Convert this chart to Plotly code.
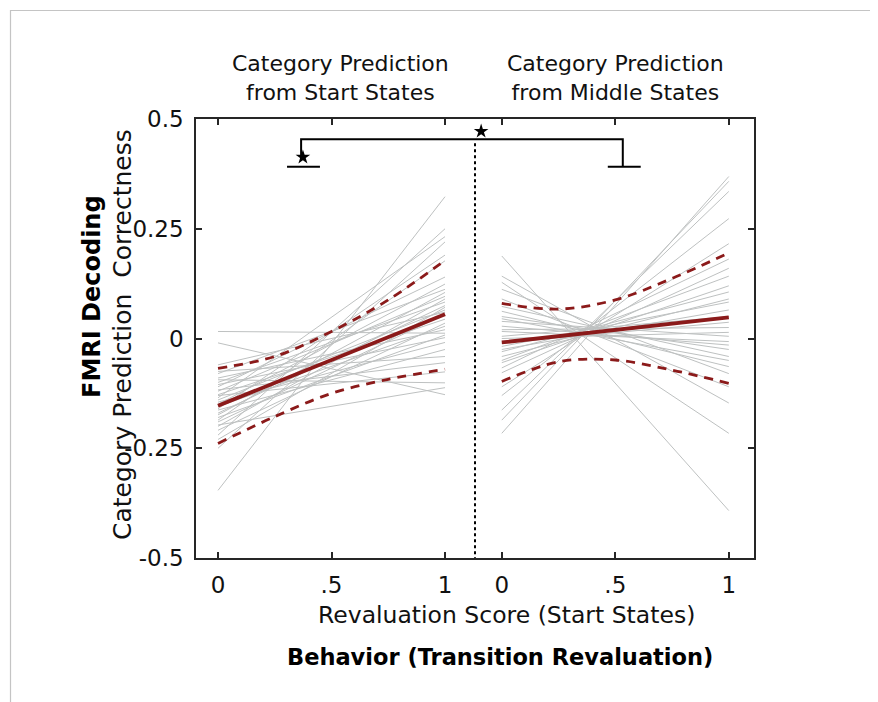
import plotly.graph_objects as go

# ---------------- data ----------------
PANEL_X = [0, 1]
CI_X = [0, 0.25, 0.5, 0.75, 1]
RIGHT_OFFSET = 1.25          # horizontal shift of the right panel on the shared axis
DIVIDER_X = 1.132

left_start = [0.016, -0.010, -0.346, -0.060, -0.075, -0.080, -0.090, -0.094, -0.100, -0.105,
              -0.110, -0.117, -0.120, -0.128, -0.130, -0.135, -0.140, -0.145, -0.150, -0.155,
              -0.160, -0.163, -0.170, -0.174, -0.180, -0.186, -0.190, -0.197, -0.200, -0.209,
              -0.220, -0.230, -0.250]
left_end = [0.012, -0.128, 0.323, 0.060, -0.041, 0.112, 0.020, -0.101, 0.083, 0.002,
            0.140, -0.055, 0.096, 0.044, -0.076, 0.232, 0.065, -0.009, 0.124, 0.028,
            0.190, -0.025, 0.075, 0.105, 0.008, 0.177, 0.055, -0.112, 0.090, 0.035,
            0.250, 0.071, 0.220]

right_start = [0.188, 0.142, 0.128, 0.112, 0.090, 0.073, 0.062, 0.050, 0.045, 0.039,
               0.028, 0.020, 0.016, 0.005, 0.000, -0.010, -0.018, -0.025, -0.030, -0.041,
               -0.050, -0.055, -0.067, -0.078, -0.110, -0.130, -0.163, -0.186, -0.216]
right_end = [-0.392, -0.147, -0.216, -0.080, -0.110, -0.041, -0.064, -0.025, -0.050, 0.005,
             -0.015, 0.025, -0.007, 0.050, 0.014, 0.037, 0.083, 0.065, 0.106, 0.090,
             0.142, 0.120, 0.181, 0.160, 0.216, 0.273, 0.335, 0.358, 0.369]

left_mean = [-0.153, 0.055]
left_ci_upper = [-0.068, -0.041, 0.016, 0.088, 0.178]
left_ci_lower = [-0.239, -0.178, -0.125, -0.093, -0.070]

right_mean = [-0.009, 0.048]
right_ci_upper = [0.080, 0.067, 0.088, 0.137, 0.195]
right_ci_lower = [-0.098, -0.053, -0.049, -0.072, -0.102]

x_tick_vals = [0, 0.5, 1, 1.25, 1.75, 2.25]
x_tick_text = ["0", ".5", "1", "0", ".5", "1"]
y_tick_vals = [-0.5, -0.25, 0, 0.25, 0.5]
y_tick_text = ["-0.5", "-0.25", "0", "0.25", "0.5"]

# significance brackets (data coordinates)
bracket_main_x = [0.366, 0.366, 1.783, 1.783]
bracket_main_y = [0.407, 0.454, 0.454, 0.391]
bracket_left_cap_x = [0.304, 0.449]
bracket_right_cap_x = [1.717, 1.862]
bracket_cap_y = 0.391
star_x = [0.374, 1.159]
star_y = [0.413, 0.472]

# ---------------- figure ----------------
GRAY = "rgb(190,193,193)"
RED = "#8b1a1a"
FONT = "DejaVu Sans"

fig = go.Figure()

def shift(xs, off):
    return [x + off for x in xs]

for s, e in zip(left_start, left_end):
    fig.add_trace(go.Scatter(x=PANEL_X, y=[s, e], mode="lines",
                             line=dict(color=GRAY, width=1), hoverinfo="skip", showlegend=False))
for s, e in zip(right_start, right_end):
    fig.add_trace(go.Scatter(x=shift(PANEL_X, RIGHT_OFFSET), y=[s, e], mode="lines",
                             line=dict(color=GRAY, width=1), hoverinfo="skip", showlegend=False))

for off, up, lo, mean in [(0, left_ci_upper, left_ci_lower, left_mean),
                          (RIGHT_OFFSET, right_ci_upper, right_ci_lower, right_mean)]:
    for band in (up, lo):
        fig.add_trace(go.Scatter(x=shift(CI_X, off), y=band, mode="lines",
                                 line=dict(color=RED, width=2.8, dash="9px,7px", shape="spline"),
                                 hoverinfo="skip", showlegend=False))
    fig.add_trace(go.Scatter(x=shift(PANEL_X, off), y=mean, mode="lines",
                             line=dict(color=RED, width=3.8), hoverinfo="skip", showlegend=False))

# divider
fig.add_trace(go.Scatter(x=[DIVIDER_X, DIVIDER_X], y=[0.445, -0.5], mode="lines",
                         line=dict(color="black", width=2, dash="dot"),
                         hoverinfo="skip", showlegend=False))
# brackets
fig.add_trace(go.Scatter(x=bracket_main_x, y=bracket_main_y, mode="lines",
                         line=dict(color="black", width=2), hoverinfo="skip", showlegend=False))
fig.add_trace(go.Scatter(x=bracket_left_cap_x, y=[bracket_cap_y] * 2, mode="lines",
                         line=dict(color="black", width=2), hoverinfo="skip", showlegend=False))
fig.add_trace(go.Scatter(x=bracket_right_cap_x, y=[bracket_cap_y] * 2, mode="lines",
                         line=dict(color="black", width=2), hoverinfo="skip", showlegend=False))
fig.add_trace(go.Scatter(x=star_x, y=star_y, mode="markers",
                         marker=dict(symbol="star", size=11, color="black"),
                         hoverinfo="skip", showlegend=False))

AX = "#262626"
fig.update_xaxes(range=[-0.097, 2.361], tickvals=x_tick_vals, ticktext=x_tick_text,
                 showgrid=False, zeroline=False, showline=True, linecolor=AX, linewidth=1.5,
                 mirror="ticks", ticks="inside", ticklen=6, tickwidth=1.5, tickcolor=AX,
                 tickfont=dict(family=FONT, size=23, color="#111"), ticklabelstandoff=6)
fig.update_yaxes(range=[-0.5, 0.5], tickvals=y_tick_vals, ticktext=y_tick_text,
                 showgrid=False, zeroline=False, showline=True, linecolor=AX, linewidth=1.5,
                 mirror="ticks", ticks="inside", ticklen=6, tickwidth=1.5, tickcolor=AX,
                 tickfont=dict(family=FONT, size=23, color="#111"), ticklabelstandoff=6)

# the page adds an 8px body margin, so the figure is offset by that much
PAGE_OFF = 8
W, H = 878, 702
L, T = 196 - PAGE_OFF, 119 - PAGE_OFF
pw, ph = 558, 439
R, B = W - L - pw, H - T - ph

def px(x):
    return (x - PAGE_OFF - L) / pw

def py(y):
    return (T + ph - (y - PAGE_OFF)) / ph

annotations = [
    dict(text="Category Prediction<br>from Start States", x=px(340), y=py(78),
         font=dict(family=FONT, size=22, color="#111")),
    dict(text="Category Prediction<br>from Middle States", x=px(615), y=py(78),
         font=dict(family=FONT, size=22, color="#111")),
    dict(text="<b>FMRI Decoding</b>", x=px(92), y=py(297), textangle=-90,
         font=dict(family=FONT, size=24, color="#000")),
    dict(text="Category Prediction  Correctness", x=px(122), y=py(335), textangle=-90,
         font=dict(family=FONT, size=25, color="#111")),
    dict(text="Revaluation Score (Start States)", x=px(506), y=py(615),
         font=dict(family=FONT, size=23.5, color="#111")),
    dict(text="<b>Behavior (Transition Revaluation)</b>", x=px(500), y=py(657),
         font=dict(family=FONT, size=22.5, color="#000")),
]
for a in annotations:
    a.update(xref="paper", yref="paper", showarrow=False, xanchor="center", yanchor="middle")

shapes = [
    dict(type="line", xref="paper", yref="paper", x0=px(10), x1=px(890), y0=py(10.5), y1=py(10.5),
         line=dict(color="#c4c4c4", width=1.2)),
    dict(type="line", xref="paper", yref="paper", x0=px(10.5), x1=px(10.5), y0=py(10), y1=py(712),
         line=dict(color="#c4c4c4", width=1.2)),
]

fig.update_layout(width=W, height=H, margin=dict(l=L, r=R, t=T, b=B),
                  paper_bgcolor="white", plot_bgcolor="white",
                  annotations=annotations, shapes=shapes, showlegend=False)

fig.write_html("out.html")
